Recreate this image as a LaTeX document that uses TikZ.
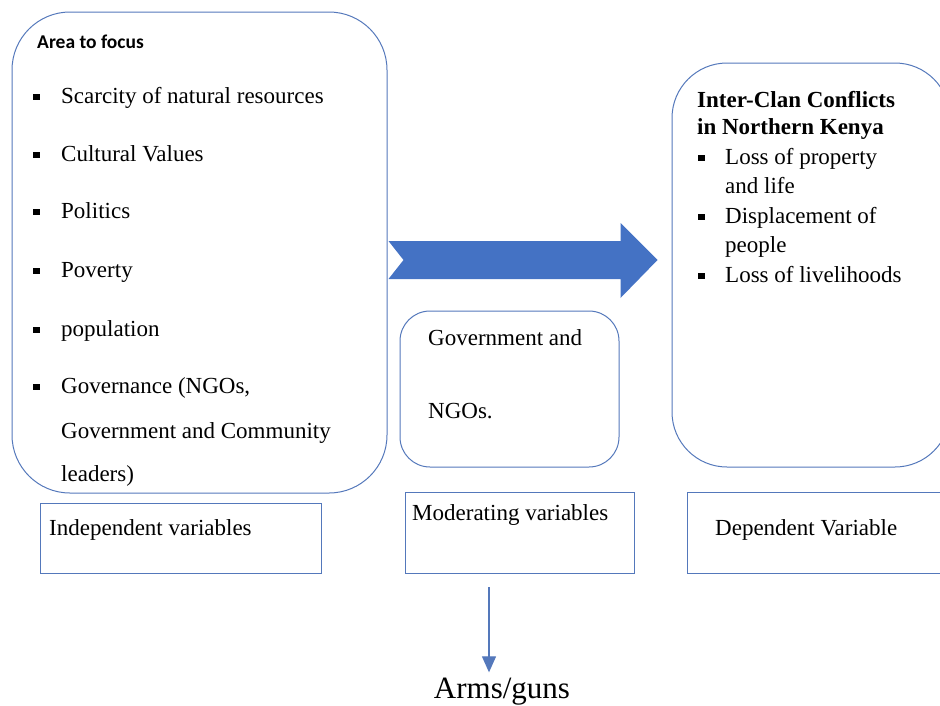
\documentclass[tikz,border=0pt]{standalone}
\usepackage{fontspec}
\setmainfont{Liberation Serif}
\newfontfamily\calibrifont{Carlito}
\usetikzlibrary{positioning,arrows.meta,calc}
\definecolor{lineblue}{HTML}{5478BB}
\definecolor{fillblue}{HTML}{4472C4}
\newcommand{\sqb}{\makebox[28pt][l]{\raisebox{3pt}{\rule{6.5pt}{6.5pt}}}}

\begin{document}
\begin{tikzpicture}[x=1pt,y=-1pt,
    rbox/.style={draw=lineblue,line width=1pt,inner sep=0pt},
    txt/.style={anchor=base west,inner sep=0pt,font=\fontsize{23}{27}\selectfont},
    btxt/.style={txt,font=\fontsize{23}{27}\selectfont\bfseries}]
  \clip (0,0) rectangle (940,705);
  % big boxes
  \node[rbox,rounded corners=58pt,minimum width=375pt,minimum height=481pt] (focus) at (199.5,252.5) {};
  \node[rbox,rounded corners=30pt,minimum width=219pt,minimum height=156pt] (govbox) at (509.5,389) {};
  \node[rbox,rounded corners=55pt,minimum width=278pt,minimum height=404pt] (conflict) at (811,265) {};
  % labels under boxes
  \node[rbox,minimum width=281pt,minimum height=70pt] (indep) at (180.5,538) {};
  \node[rbox,minimum width=229pt,minimum height=81pt] (moder) at (519.5,532.5) {};
  \node[rbox,minimum width=263pt,minimum height=81pt] (depen) at (818.5,532.5) {};

  % left box text
  \node[anchor=base west,inner sep=0pt,font=\calibrifont\bfseries\fontsize{19.5}{23}\selectfont] (areatitle) at (37,48) {Area to focus};
  \node[txt] (scarce) at (33,103) {\sqb Scarcity of natural resources};
  \node[txt] (culture) at (33,161) {\sqb Cultural Values};
  \node[txt] (politics) at (33,218) {\sqb Politics};
  \node[txt] (poverty) at (33,277) {\sqb Poverty};
  \node[txt] (popul) at (33,336) {\sqb population};
  \node[txt] (govern) at (33,393) {\sqb Governance (NGOs,};
  \node[txt] (govern2) at (61,438) {Government and Community};
  \node[txt] (govern3) at (61,481) {leaders)};

  % middle box text
  \node[txt] (gov1) at (428,345) {Government and};
  \node[txt] (gov2) at (428,418) {NGOs.};

  % right box text
  \node[btxt] (ctitle1) at (697,107) {Inter-Clan Conflicts};
  \node[btxt] (ctitle2) at (697,134) {in Northern Kenya};
  \node[txt] (loss1) at (698,164) {\makebox[27pt][l]{\raisebox{3pt}{\rule{6.5pt}{6.5pt}}}Loss of property};
  \node[txt] (loss2) at (725,193) {and life};
  \node[txt] (displ1) at (698,223) {\makebox[27pt][l]{\raisebox{3pt}{\rule{6.5pt}{6.5pt}}}Displacement of};
  \node[txt] (displ2) at (725,252) {people};
  \node[txt] (liveli) at (698,282) {\makebox[27pt][l]{\raisebox{3pt}{\rule{6.5pt}{6.5pt}}}Loss of livelihoods};

  % bottom labels
  \node[txt] at (49,535) {Independent variables};
  \node[txt] at (412,520) {Moderating variables};
  \node[txt] at (715,535) {Dependent Variable};
  \node[anchor=base,inner sep=0pt,font=\fontsize{31}{36}\selectfont] (arms) at (502,698) {Arms/guns};

  % block arrow focus -> conflict
  \coordinate (tail) at ($(focus.east)+(1,7.5)$);
  \fill[fillblue] (tail) ++(0,-19) -- ++(232,0) -- ++(0,-18) -- ++(37,37)
    -- ++(-37,38) -- ++(0,-19) -- ++(-232,0) -- ++(15,-19) -- cycle;

  % moderator -> arms
  \coordinate (armtop) at (489,587);
  \draw[-{Triangle[width=14pt,length=16pt]},draw=lineblue,line width=1.2pt,shorten >=5pt]
    (armtop) -- (armtop |- arms.north);
\end{tikzpicture}
\end{document}
